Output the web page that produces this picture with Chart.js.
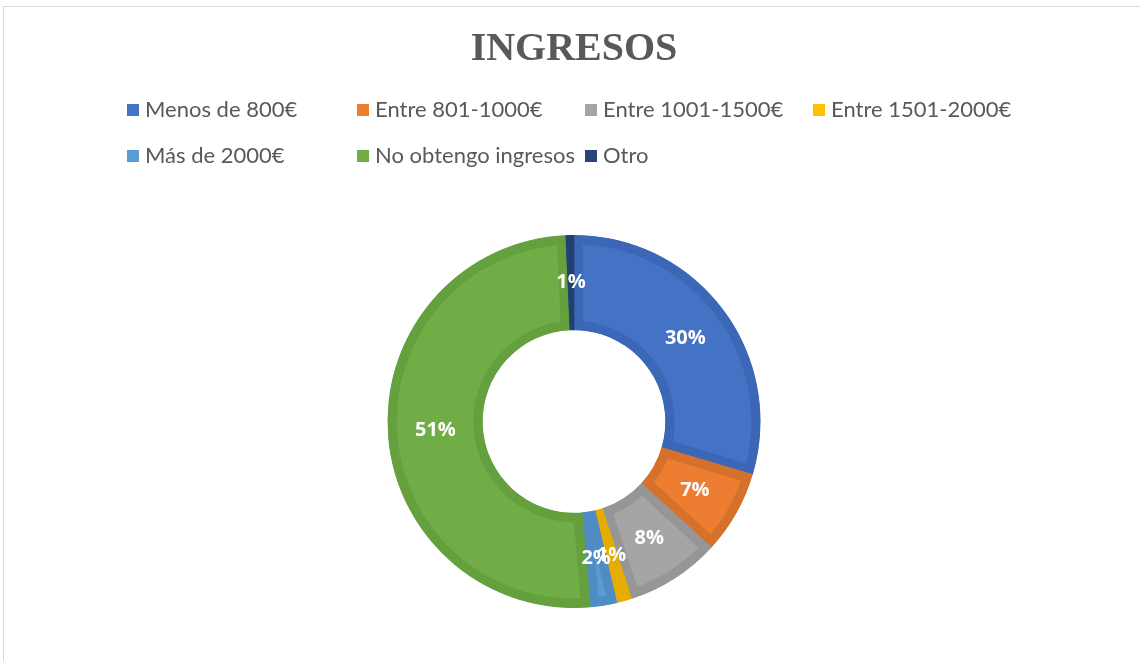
<!DOCTYPE html>
<html>
<head>
<meta charset="utf-8">
<script src="https://cdn.jsdelivr.net/npm/chart.js@4/dist/chart.umd.min.js"></script>
<style>
  body { margin: 0; background: #fff; }
  .frame { position: absolute; left: 3px; top: 6px; width: 1200px; height: 700px; border: 1px solid #d9d9d9; }
  .wrap { position: absolute; left: 0; top: 0; width: 1140px; height: 661px; }
</style>
</head>
<body>
<div class="frame"></div>
<div class="wrap"><canvas id="myChart"></canvas></div>
<script>
var categorias = ['Menos de 800€', 'Entre 801-1000€', 'Entre 1001-1500€', 'Entre 1501-2000€', 'Más de 2000€', 'No obtengo ingresos', 'Otro'];
var porcentajes = [29.6, 7.2, 8.2, 1.3, 2.3, 50.7, 0.7];
var colores = ['#4472C4', '#ED7D31', '#A5A5A5', '#FFC000', '#5B9BD5', '#70AD47', '#264478'];
var bordes = ['#3C67B6', '#D6712C', '#969696', '#E6AD00', '#4F8CC4', '#65A03F', '#21406F'];

// leyenda en rejilla como la de Excel
var leyendaPlugin = {
    id: 'leyendaExcel',
    afterDraw: function(chart) {
        var ctx = chart.ctx;
        var cols = [127, 357, 585, 813];
        var filas = [110, 156];
        ctx.save();
        ctx.font = '22px Lato, "Open Sans", sans-serif';
        ctx.textBaseline = 'middle';
        ctx.textAlign = 'left';
        categorias.forEach(function(cat, i) {
            var x = cols[i % 4], y = filas[Math.floor(i / 4)];
            ctx.fillStyle = colores[i];
            ctx.fillRect(x, y - 6, 12, 12);
            ctx.fillStyle = '#595959';
            ctx.fillText(cat, x + 18, y);
        });
        ctx.restore();
    }
};

// etiquetas de porcentaje dentro de cada sector
var etiquetasPlugin = {
    id: 'etiquetas',
    afterDatasetsDraw: function(chart) {
        var ctx = chart.ctx;
        var meta = chart.getDatasetMeta(0);
        var total = porcentajes.reduce(function(a, b) { return a + b; }, 0);
        ctx.save();
        ctx.font = 'bold 20px "Open Sans", sans-serif';
        ctx.fillStyle = '#ffffff';
        ctx.textAlign = 'center';
        ctx.textBaseline = 'middle';
        meta.data.forEach(function(arc, i) {
            var p = arc.tooltipPosition();
            ctx.fillText(Math.round(porcentajes[i] / total * 100) + '%', p.x, p.y);
        });
        ctx.restore();
    }
};

var ctx = document.getElementById('myChart').getContext('2d');
var chart = new Chart(ctx, {
    type: 'doughnut',
    data: {
        labels: categorias,
        datasets: [{
            data: porcentajes,
            backgroundColor: colores,
            borderColor: bordes,
            borderWidth: 9,
            borderAlign: 'inner',
            hoverOffset: 0
        }]
    },
    options: {
        responsive: true,
        maintainAspectRatio: false,
        animation: false,
        radius: 186.5,
        cutout: 92.5,
        layout: { padding: { left: 8, right: 0, top: 0, bottom: 50.6 } },
        plugins: {
            legend: { display: false },
            tooltip: { enabled: false },
            title: {
                display: true,
                text: 'INGRESOS',
                color: '#595959',
                font: { family: '"Liberation Serif", serif', size: 40, weight: 'bold' },
                padding: { top: 26, bottom: 158.6 }
            }
        }
    },
    plugins: [leyendaPlugin, etiquetasPlugin]
});
</script>
</body>
</html>
